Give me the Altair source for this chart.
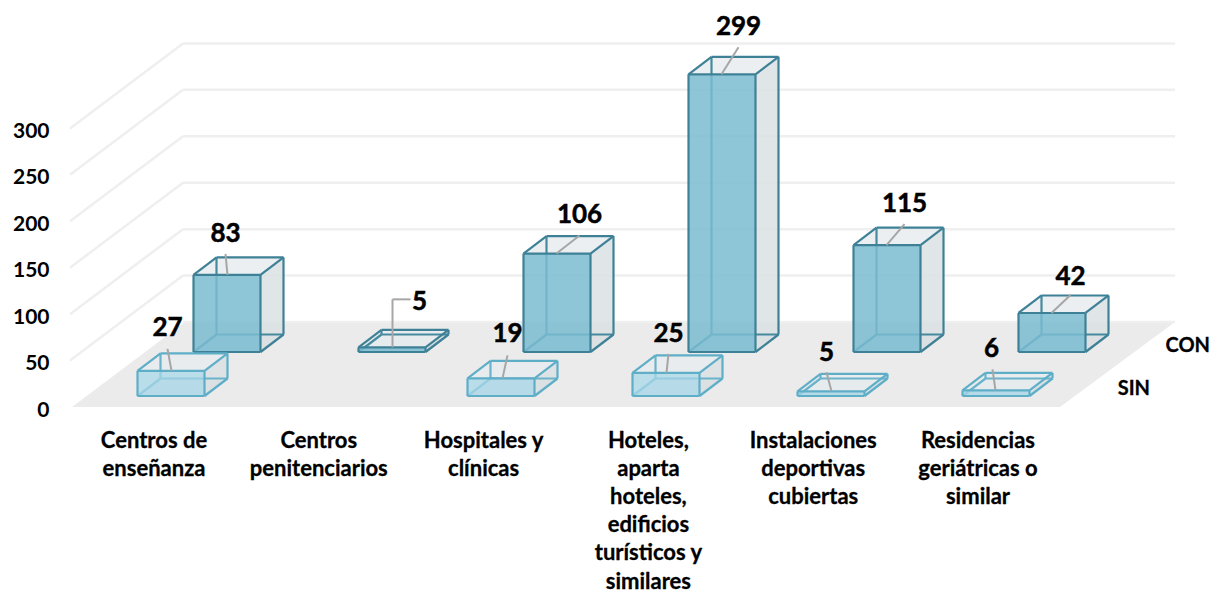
import altair as alt
import pandas as pd

categories = ["Centros de\nenseñanza", "Centros\npenitenciarios", "Hospitales y\nclínicas",
              "Hoteles,\naparta\nhoteles,\nedificios\nturísticos y\nsimilares",
              "Instalaciones\ndeportivas\ncubiertas", "Residencias\ngeriátricas o\nsimilar"]
sin_values = [27, None, 19, 25, 5, 6]
con_values = [83, 5, 106, 299, 115, 42]
axis_values = [0, 50, 100, 150, 200, 250, 300]

FONT = "Lato"
K = 0.9287          # px per unit
Y0 = 407            # page y of value 0, front edge
W, H = 1202, 585

def vy(py):         # page pixel -> value units
    return (Y0 - py) / K

DX, DY = 23, 17.5 / K     # bar depth
BAR_W = 67
STEP = 165
ROWS = {"SIN": dict(x=137.5, base=11 / K, edge="#5FAEC8", hidden="#6BB3CB", front="#A6D7E9", fo=0.72),
        "CON": dict(x=193.5, base=55 / K, edge="#3E8196", hidden="#458A9F", front="#7ABCD1", fo=0.85)}

xs = alt.Scale(domain=[8, 8 + W], range=[0, W], nice=False, zero=False)
ys = alt.Scale(domain=[vy(8 + H), vy(8)], range=[H, 0], nice=False, zero=False)
y_axis = alt.Axis(values=axis_values, title=None, domain=False, ticks=False,
                  grid=False, offset=-41, labelPadding=0, labelOffset=3, labelFont=FONT, labelFontWeight="bold",
                  labelFontSize=21, labelColor="#000000", format="d")
X = alt.X("x:Q", scale=xs, axis=None)
Y = alt.Y("y:Q", scale=ys, axis=y_axis)

def segs(rows):
    return pd.DataFrame(rows, columns=["x", "y", "x2", "y2"])

def rules(rows, color, width, **kw):
    return alt.Chart(segs(rows)).mark_rule(color=color, strokeWidth=width, **kw).encode(
        x=X, y=Y, x2="x2:Q", y2="y2:Q")

def area(points, color, opacity):
    # points: (x, upper, lower)
    df = pd.DataFrame(points, columns=["x", "y", "y2"])
    return alt.Chart(df).mark_area(color=color, opacity=opacity, interpolate="linear").encode(
        x=X, y=Y, y2="y2:Q")

layers = []

# walls' grid lines
FX0, FX1, FX2, FX3 = 72, 185, 1060, 1175
FD = 85 / K
grid = []
for v in axis_values[1:]:
    grid.append((FX0 - 2, v, FX1 - 2, v + FD))
    grid.append((FX1 - 2, v + FD, FX3, v + FD))
layers.append(rules(grid, "#EFEFEF", 2.5))
# floor
layers.append(area([(FX0, 0, 0), (FX1, FD, 0), (FX2, FD, 0), (FX3, FD, FD)], "#EBEBEB", 1))
layers.append(rules([(FX1 - 2, FD, FX3, FD)], "#EFEFEF", 2.5))

def bar_layers(name, values):
    r = ROWS[name]
    out = []
    for i, v in enumerate(values):
        if v is None:
            continue
        x0 = r["x"] + i * STEP
        x1 = x0 + BAR_W
        b = r["base"]
        t = b + v
        hidden = [(x0 + DX, b + DY, x0 + DX, t + DY), (x0, b, x0 + DX, b + DY),
                  (x0 + DX, b + DY, x1 + DX, b + DY)]
        out.append(area([(x0, b, b), (x0 + DX, b + DY, b), (x1, b + DY, b), (x1 + DX, b + DY, b + DY)],
                        "#C3CFD3", 0.35))
        out.append(area([(x1, t, b), (x1 + DX, t + DY, b + DY)], "#DAE0E3", 0.85))
        out.append(area([(x0, t, t), (x0 + DX, t + DY, t), (x1, t + DY, t), (x1 + DX, t + DY, t + DY)],
                        "#E8ECEE", 0.85))
        out.append(rules(hidden, r["hidden"], 2.2))
        out.append(area([(x0, t, b), (x1, t, b)], r["front"], r["fo"]))
        edges = [(x0, b, x1, b), (x0, t, x1, t), (x0, b, x0, t), (x1, b, x1, t),
                 (x1, b, x1 + DX, b + DY), (x1, t, x1 + DX, t + DY), (x0, t, x0 + DX, t + DY),
                 (x1 + DX, b + DY, x1 + DX, t + DY), (x0 + DX, t + DY, x1 + DX, t + DY)]
        out.append(rules(edges, r["edge"], 2.2))
    return out

layers += bar_layers("CON", con_values)
layers += bar_layers("SIN", sin_values)

# data label layout: leader start dx, leader end dx, end rise, label dx, label rise (px from the bar's top-front-left)
LAYOUT = {("CON", 0): (34, 32, 21, 32, 41), ("SIN", 0): (34, 30, 22, 30, 43),
          ("CON", 1): (34, 34, 48, 61, 45), ("SIN", 2): (35, 40, 23, 40, 44),
          ("CON", 2): (33, 56, 18, 56, 39), ("SIN", 3): (34, 36, 19, 36, 39),
          ("CON", 3): (33, 50, 27, 50, 47.5), ("SIN", 4): (34, 29, 19, 29, 38),
          ("CON", 4): (33, 51, 21, 51, 41.5), ("SIN", 5): (33, 30, 21, 29, 41),
          ("CON", 5): (33, 52, 18, 52, 36)}
leaders, labels = [], []
for name, values in (("CON", con_values), ("SIN", sin_values)):
    r = ROWS[name]
    for i, v in enumerate(values):
        if v is None:
            continue
        sx, ex, rise, lx, lr = LAYOUT[(name, i)]
        x0 = r["x"] + i * STEP
        t = r["base"] + v
        leaders.append((x0 + sx, t, x0 + ex, t + rise / K))
        if (name, i) == ("CON", 1):
            leaders.append((x0 + ex, t + rise / K, x0 + 52, t + rise / K))
        labels.append({"x": x0 + lx, "y": t + lr / K, "t": str(v)})
layers.append(rules(leaders, "#A6A6A6", 2))
layers.append(alt.Chart(pd.DataFrame(labels)).mark_text(font=FONT, fontWeight="bold", fontSize=26,
              color="#000000", stroke="#000000", strokeWidth=0.5, align="center", baseline="middle").encode(
              x=X, y=Y, text="t:N"))

# category labels
cat_df = pd.DataFrame({"x": [154 + i * 164.8 for i in range(6)], "y": [vy(430.5)] * 6, "t": categories})
layers.append(alt.Chart(cat_df).mark_text(font=FONT, fontWeight="bold", fontSize=22, color="#000000",
              stroke="#000000", strokeWidth=0.3,
              align="center", baseline="top", lineBreak="\n", lineHeight=28.2).encode(x=X, y=Y, text="t:N"))

# depth labels
ser_df = pd.DataFrame({"x": [1210, 1150], "y": [vy(345.5), vy(388.5)], "t": ["CON", "SIN"]})
layers.append(alt.Chart(ser_df).mark_text(font=FONT, fontWeight="bold", fontSize=20, color="#000000",
              stroke="#000000", strokeWidth=0.3,
              align="right", baseline="middle").encode(x=X, y=Y, text="t:N"))

chart = alt.layer(*layers).properties(
    width=W, height=H, padding=0, autosize=alt.AutoSizeParams(type="none"), background="#FFFFFF"
).configure_view(stroke=None)

chart.save("out.html", embed_options={"renderer": "svg", "actions": False})
